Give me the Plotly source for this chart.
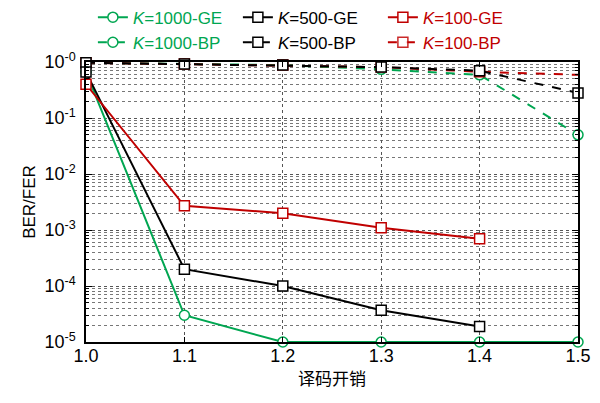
import plotly.graph_objects as go

x = [1.0, 1.1, 1.2, 1.3, 1.4, 1.5]
x_ge = [1.0, 1.1, 1.2, 1.3, 1.4]

ge_1000 = [0.66, 3.0e-5, 1.0e-5, 1.0e-5, 1.0e-5, 1.0e-5]
ge_500 = [0.66, 2.0e-4, 1.0e-4, 3.7e-5, 1.9e-5]
ge_100 = [0.40, 2.7e-3, 2.0e-3, 1.1e-3, 7.0e-4]
bp_1000 = [0.97, 0.92, 0.88, 0.74, 0.59, 0.05]
bp_500 = [0.97, 0.92, 0.88, 0.81, 0.70, 0.28]
bp_100 = [0.97, 0.92, 0.88, 0.81, 0.67, 0.59]

y_tickvals = [1e-5, 1e-4, 1e-3, 1e-2, 1e-1, 1e0]
y_ticktext = ["10<sup>-5</sup>", "10<sup>-4</sup>", "10<sup>-3</sup>",
              "10<sup>-2</sup>", "10<sup>-1</sup>", "10<sup>-0</sup>"]
x_tickvals = [1.0, 1.1, 1.2, 1.3, 1.4, 1.5]
x_ticktext = ["1.0", "1.1", "1.2", "1.3", "1.4", "1.5"]

GREEN = "#00a651"
RED = "#c00000"
BLACK = "#000000"

minor_vals = [m * 10.0 ** e for e in range(-5, 0) for m in range(2, 10)]

fig = go.Figure()

def add(xs, ys, name, color, dash, symbol, rank, opac=None):
    fig.add_trace(go.Scatter(
        x=xs, y=ys, mode="lines+markers",
        name=f'<span style="color:{color}"><i>K</i>={name}</span>',
        line=dict(color=color, width=2, dash=dash),
        marker=dict(symbol=symbol, size=10, color="white",
                    line=dict(color=color, width=1.5),
                    opacity=opac if opac is not None else 1),
        cliponaxis=False, legendrank=rank,
    ))

# draw order (back to front) with legend ranks for row-wise legend order
add(x, bp_1000, "1000-BP", GREEN, "dash", "circle", 4)
add(x, bp_100, "100-BP", RED, "dash", "square", 6, [1, 1, 1, 1, 1, 0])
add(x, bp_500, "500-BP", BLACK, "dash", "square", 5)
add(x, ge_1000, "1000-GE", GREEN, "solid", "circle", 1)
add(x_ge, ge_500, "500-GE", BLACK, "solid", "square", 2)
add(x_ge, ge_100, "100-GE", RED, "solid", "square", 3)

# page body has an 8px margin, so the figure is 592x395 and starts at (8, 8)
fig.update_layout(
    width=592, height=395,
    margin=dict(l=78, r=22, t=54, b=61, autoexpand=False),
    plot_bgcolor="white", paper_bgcolor="white",
    font=dict(family="Liberation Sans, Arial, sans-serif", size=18, color="black"),
    legend=dict(
        orientation="h", x=0.014, y=1.005, xanchor="left", yanchor="bottom",
        entrywidth=100, itemwidth=30, font=dict(size=17),
        bgcolor="rgba(0,0,0,0)", traceorder="normal",
        tracegroupgap=0,
    ),
    xaxis=dict(
        range=[1.0, 1.5], tickvals=x_tickvals, ticktext=x_ticktext,
        showgrid=True, gridcolor="#555", griddash="dot", gridwidth=1,
        ticks="inside", ticklen=5, tickcolor="black",
        showline=True, linecolor="black", linewidth=1.5, mirror="ticks",
        zeroline=False, ticklabelstandoff=-3,
        title=dict(text="译码开销", font=dict(family="Noto Sans CJK SC", size=17), standoff=8),
    ),
    yaxis=dict(
        type="log", range=[-5, 0], tickvals=y_tickvals, ticktext=y_ticktext,
        showgrid=True, gridcolor="#555", griddash="dot", gridwidth=1,
        ticks="inside", ticklen=6, tickcolor="black",
        showline=True, linecolor="black", linewidth=1.5, mirror="ticks",
        zeroline=False, ticklabelstandoff=5,
        minor=dict(tickvals=minor_vals, showgrid=True, gridcolor="#777",
                   griddash="dot", gridwidth=1, ticks="inside", ticklen=3,
                   tickcolor="black"),
        title=dict(text="BER/FER", font=dict(size=17), standoff=4),
    ),
)

fig.write_html("out.html")
